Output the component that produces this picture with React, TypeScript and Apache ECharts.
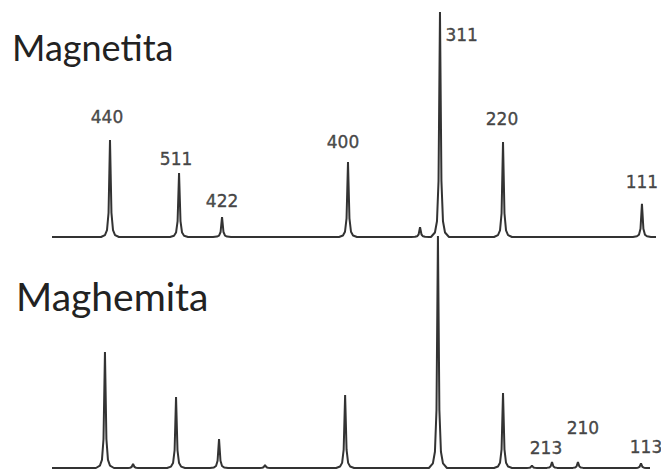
import React, { useEffect, useRef } from "react";
import * as echarts from "echarts";

// x axis: 2θ (degrees), drawn reversed; y axis: relative intensity (%)
const X_MIN = 17.1;
const X_MAX = 67.4;

// Magnetita peaks: [2θ, intensity, label]
const magnetitaPeaks: [number, number, string][] = [
  [62.57, 43.1, "440"],
  [56.82, 28.4, "511"],
  [53.24, 8.9, "422"],
  [42.75, 33.3, "400"],
  [36.75, 4.4, ""],
  [35.09, 100, "311"],
  [29.84, 42.2, "220"],
  [18.27, 14.7, "111"],
];

// Maghemita peaks: [2θ, intensity, label]
const maghemitaPeaks: [number, number, string][] = [
  [62.99, 50.0, ""],
  [60.65, 1.7, ""],
  [57.07, 30.6, ""],
  [53.49, 12.5, ""],
  [49.66, 1.3, ""],
  [42.99, 31.5, ""],
  [35.26, 100, ""],
  [29.84, 32.3, ""],
  [27.43, 1.0, ""],
  [25.76, 2.6, "213"],
  [23.6, 2.6, "210"],
  [18.35, 2.0, "113"],
];

const magnetitaRange: [number, number] = [17.1, 67.4];
const maghemitaRange: [number, number] = [17.85, 67.4];

// peak profile template: [Δ2θ, fraction of peak height]
const PEAK_SHAPE: [number, number][] = [
  [-0.75, 0], [-0.42, 0.02], [-0.25, 0.07], [-0.12, 0.25], [0, 1],
  [0.12, 0.25], [0.25, 0.07], [0.42, 0.02], [0.75, 0],
];

// label placement styles (distance above apex, horizontal nudge)
const LABEL_STYLE: Record<string, { pos: string; dist: number; dx: number; dy: number }> = {
  "440": { pos: "top", dist: 14, dx: -3, dy: 0 },
  "511": { pos: "top", dist: 5, dx: -3, dy: 0 },
  "422": { pos: "top", dist: 6, dx: 0, dy: 0 },
  "400": { pos: "top", dist: 11, dx: -5, dy: 0 },
  "311": { pos: "right", dist: 5, dx: 0, dy: 23 },
  "220": { pos: "top", dist: 14, dx: -1, dy: 0 },
  "111": { pos: "top", dist: 12, dx: 0, dy: 0 },
  "213": { pos: "top", dist: 4, dx: -6, dy: 0 },
  "210": { pos: "top", dist: 24, dx: 5, dy: 0 },
  "113": { pos: "top", dist: 7, dx: 5, dy: 0 },
};

function profile(peaks: [number, number, string][], range: [number, number]) {
  const pts: [number, number][] = [[range[1], 0]];
  peaks.forEach(([t, h]) => {
    PEAK_SHAPE.forEach(([d, f]) => pts.push([t - d, f * h]));
  });
  pts.push([range[0], 0]);
  pts.sort((a, b) => b[0] - a[0]);
  return pts;
}

function labelData(peaks: [number, number, string][]) {
  return peaks
    .filter((p) => p[2])
    .map(([t, h, name]) => {
      const s = LABEL_STYLE[name];
      return {
        value: [t, h],
        name,
        label: {
          show: true,
          position: s.pos,
          distance: s.dist,
          offset: [s.dx, s.dy],
          formatter: name,
        },
      };
    });
}

const LINE_COLOR = "#333333";

export default function App() {
  const ref = useRef<HTMLDivElement>(null);
  useEffect(() => {
    if (!ref.current) return;
    const chart = echarts.init(ref.current, null, { renderer: "svg" });
    const labelCommon = {
      show: true,
      fontFamily: "DejaVu Sans, sans-serif",
      fontSize: 17,
      lineHeight: 18,
      color: "#1e1e1e",
      textBorderColor: "#1e1e1e",
      textBorderWidth: 0.4,
    };
    chart.setOption({
      animation: false,
      backgroundColor: "#ffffff",
      grid: [
        { left: 52, right: 5, top: 12, bottom: 236 },
        { left: 52, right: 5, top: 236, bottom: 5 },
      ],
      xAxis: [0, 1].map((i) => ({
        type: "value",
        gridIndex: i,
        min: X_MIN,
        max: X_MAX,
        inverse: true,
        show: false,
      })),
      yAxis: [0, 1].map((i) => ({
        type: "value",
        gridIndex: i,
        min: 0,
        max: 100,
        show: false,
      })),
      graphic: [
        {
          type: "text",
          left: 12,
          top: 29,
          style: {
            text: "Magnetita",
            fontFamily: "Lato, sans-serif",
            fontSize: 36,
            fill: "#222",
          },
        },
        {
          type: "text",
          left: 16,
          top: 276,
          style: {
            text: "Maghemita",
            fontFamily: "Lato, sans-serif",
            fontSize: 39,
            fill: "#222",
          },
        },
      ],
      series: [
        {
          type: "line",
          xAxisIndex: 0,
          yAxisIndex: 0,
          data: profile(magnetitaPeaks, magnetitaRange),
          symbol: "none",
          clip: false,
          lineStyle: { color: LINE_COLOR, width: 2 },
        },
        {
          type: "line",
          xAxisIndex: 1,
          yAxisIndex: 1,
          data: profile(maghemitaPeaks, maghemitaRange),
          symbol: "none",
          clip: false,
          lineStyle: { color: LINE_COLOR, width: 2 },
        },
        {
          type: "scatter",
          xAxisIndex: 0,
          yAxisIndex: 0,
          symbolSize: 1,
          itemStyle: { color: "rgba(0,0,0,0)" },
          label: labelCommon,
          data: labelData(magnetitaPeaks),
        },
        {
          type: "scatter",
          xAxisIndex: 1,
          yAxisIndex: 1,
          symbolSize: 1,
          itemStyle: { color: "rgba(0,0,0,0)" },
          label: labelCommon,
          data: labelData(maghemitaPeaks),
        },
      ],
    });
    return () => chart.dispose();
  }, []);
  return (
    <div
      ref={ref}
      style={{ position: "absolute", left: 0, top: 0, width: 661, height: 473 }}
    />
  );
}
